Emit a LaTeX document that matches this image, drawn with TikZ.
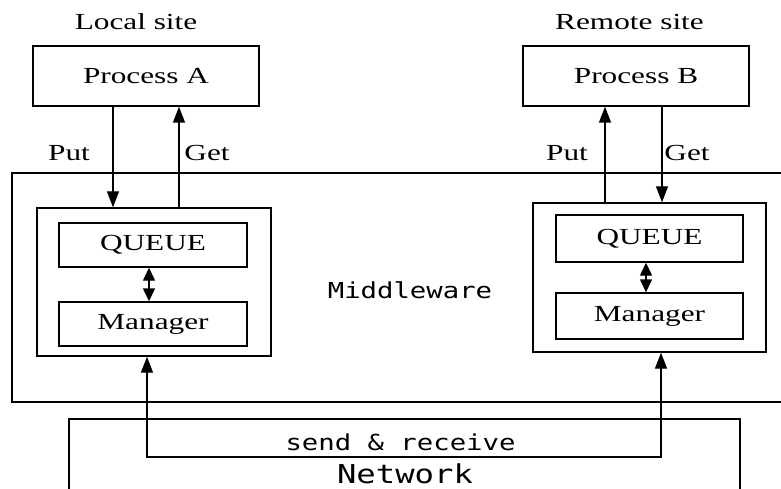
\documentclass[tikz,border=0pt]{standalone}
\usepackage{fontspec}
\usetikzlibrary{arrows.meta}
\newfontfamily\tmsw[FakeStretch=1.36]{Liberation Serif}
\newfontfamily\monow[FakeStretch=1.24]{DejaVu Sans Mono}
\begin{document}
\begin{tikzpicture}[x=1pt,y=-1pt,
  lw/.style={line width=1.4pt},
  box/.style={draw,lw,rectangle,inner sep=0pt,anchor=center},
  serif/.style={font=\tmsw\fontsize{23}{26}\selectfont,inner sep=0pt,anchor=center},
  mono/.style={font=\monow\fontsize{22}{24}\selectfont,inner sep=0pt,anchor=center},
  arr/.style={lw,-{Triangle[width=12pt,length=16pt]}},
  darr/.style={lw,{Triangle[width=12pt,length=13pt]}-{Triangle[width=12pt,length=13pt]}},
  tarr/.style={lw,{Triangle[width=12pt,length=16pt]}-{Triangle[width=12pt,length=16pt]}}]
\clip (0,0) rectangle (781,489);
\fill[white] (0,0) rectangle (781,489);
% big boxes
\node[box,minimum width=788pt,minimum height=229pt] (mw) at (406,287.5) {};
\node[box,minimum width=671pt,minimum height=101pt] (net) at (404.5,469.5) {};
% process boxes
\node[box,serif,minimum width=226pt,minimum height=60pt] (pa) at (146,76) {Process A};
\node[box,serif,minimum width=226pt,minimum height=60pt] (pb) at (636,76) {Process B};
% containers
\node[box,minimum width=234pt,minimum height=148pt] (lc) at (154,282) {};
\node[box,minimum width=233pt,minimum height=149pt] (rc) at (649.5,277.5) {};
\node[box,serif,minimum width=188pt,minimum height=44pt] (qa) at (153,245) {QUEUE};
\node[box,serif,minimum width=188pt,minimum height=44pt] (ma) at (153,324) {Manager};
\node[box,serif,minimum width=187pt,minimum height=47pt] (qb) at (649.5,238.5) {QUEUE};
\node[box,serif,minimum width=187pt,minimum height=46pt] (mb) at (649.5,316) {Manager};
% labels
\node[serif] (ls) at (136,22) {Local site};
\node[serif] (rs) at (629.5,22) {Remote site};
\node[serif] (putl) at (69,153) {Put};
\node[serif] (getl) at (207,153) {Get};
\node[serif] (putr) at (567,153) {Put};
\node[serif] (getr) at (687,153) {Get};
\node[mono] (mwt) at (410,290) {Middleware};
\node[mono] (srt) at (400.5,442) {send \& receive};
\node[mono,font=\monow\fontsize{26}{28}\selectfont] (nett) at (405,474) {Network};
% connector coordinates
\coordinate (xa1) at (113,0);
\coordinate (xa2) at (179,0);
\coordinate (xb1) at (605,0);
\coordinate (xb2) at (662,0);
\coordinate (da) at (149,0);
\coordinate (db) at (646,0);
\coordinate (srL) at (147,457);
\coordinate (srR) at (661,457);
% connectors
\draw[arr] (pa.south -| xa1) -- (lc.north -| xa1);
\draw[arr] (lc.north -| xa2) -- (pa.south -| xa2);
\draw[arr] (rc.north -| xb1) -- (pb.south -| xb1);
\draw[arr] (pb.south -| xb2) -- (rc.north -| xb2);
\draw[darr] (qa.south -| da) -- (ma.north -| da);
\draw[darr] (qb.south -| db) -- (mb.north -| db);
\draw[tarr] (lc.south -| srL) -- (srL) -- (srR) -- (rc.south -| srR);
\end{tikzpicture}
\end{document}
